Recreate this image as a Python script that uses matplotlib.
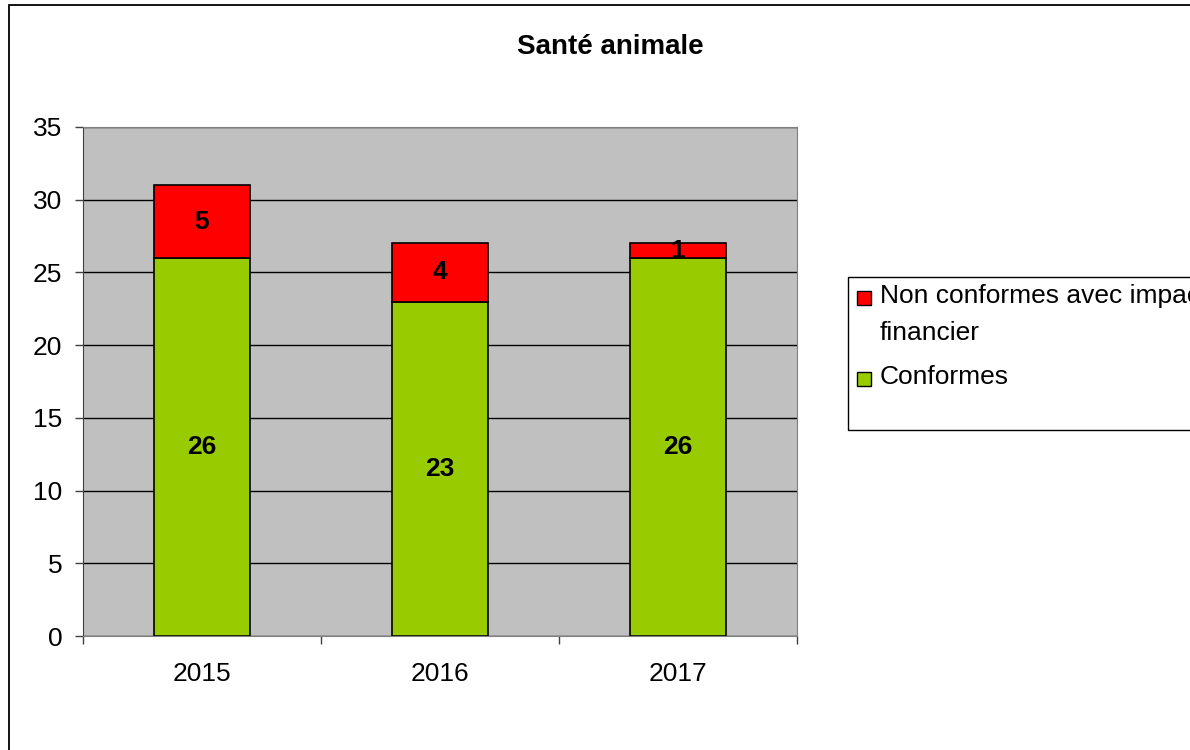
import matplotlib.pyplot as plt
from matplotlib.patches import Rectangle
from matplotlib.ticker import FixedLocator

plt.rcParams['font.family'] = ['Liberation Sans', 'DejaVu Sans']

years = ["2015", "2016", "2017"]
conformes = [26, 23, 26]
non_conformes = [5, 4, 1]
series_names = ["Non conformes avec impact\nfinancier", "Conformes"]

green = "#99CC00"
red = "#FF0000"

fig = plt.figure(figsize=(11.9, 7.5), dpi=100)
W, H = 1190, 750


def fx(px):
    return px / W


def fy(py):
    return 1 - py / H


# outer chart border
fig.patches.append(Rectangle((fx(9), fy(900)), fx(1400), fy(5) - fy(900),
                             transform=fig.transFigure, fill=False,
                             edgecolor="black", linewidth=1.3))

ax = fig.add_axes([fx(83), fy(636), fx(797) - fx(83), fy(127) - fy(636)])
ax.set_facecolor("#C0C0C0")

x = list(range(len(years)))
ax.bar(x, conformes, width=0.4, color=green, edgecolor="black", linewidth=1.2)
ax.bar(x, non_conformes, width=0.4, bottom=conformes, color=red,
       edgecolor="black", linewidth=1.2)

for i in x:
    ax.text(i, conformes[i] / 2, str(conformes[i]), ha="center", va="center",
            fontsize=19, fontweight="bold")
    ax.text(i, conformes[i] + non_conformes[i] / 2, str(non_conformes[i]),
            ha="center", va="center", fontsize=19, fontweight="bold")

ax.set_xlim(-0.5, 2.5)
ax.set_ylim(0, 35)
ax.set_yticks(range(0, 36, 5))
ax.yaxis.grid(True, color="black", linewidth=1)
ax.set_axisbelow(True)

ax.set_xticks(x)
ax.set_xticklabels(years)
ax.xaxis.set_minor_locator(FixedLocator([-0.5, 0.5, 1.5, 2.5]))
ax.tick_params(axis="x", which="major", length=0, pad=19, labelsize=19)
ax.tick_params(axis="x", which="minor", length=6, width=1, color="#404040")
ax.tick_params(axis="y", length=6, width=1, color="#404040", pad=9,
               labelsize=19)

for side in ["top", "right", "bottom"]:
    ax.spines[side].set_color("#808080")
ax.spines["left"].set_color("#404040")

fig.text(fx(610), fy(47), "Santé animale", ha="center", va="center",
         fontsize=20, fontweight="bold")

# legend
fig.patches.append(Rectangle((fx(848), fy(430)), fx(500), fy(277) - fy(430),
                             transform=fig.transFigure, fill=False,
                             edgecolor="black", linewidth=1))
legend_rows = [(298, red, series_names[0]), (379, green, series_names[1])]
for yc, col, name in legend_rows:
    fig.patches.append(Rectangle((fx(857), fy(yc + 7)), fx(14), fy(yc - 7) - fy(yc + 7),
                                 transform=fig.transFigure, facecolor=col,
                                 edgecolor="black", linewidth=1))
    fig.text(fx(880), fy(yc - 14), name, ha="left", va="top", fontsize=19,
             linespacing=1.7)

fig.savefig("out.png", dpi=100)
